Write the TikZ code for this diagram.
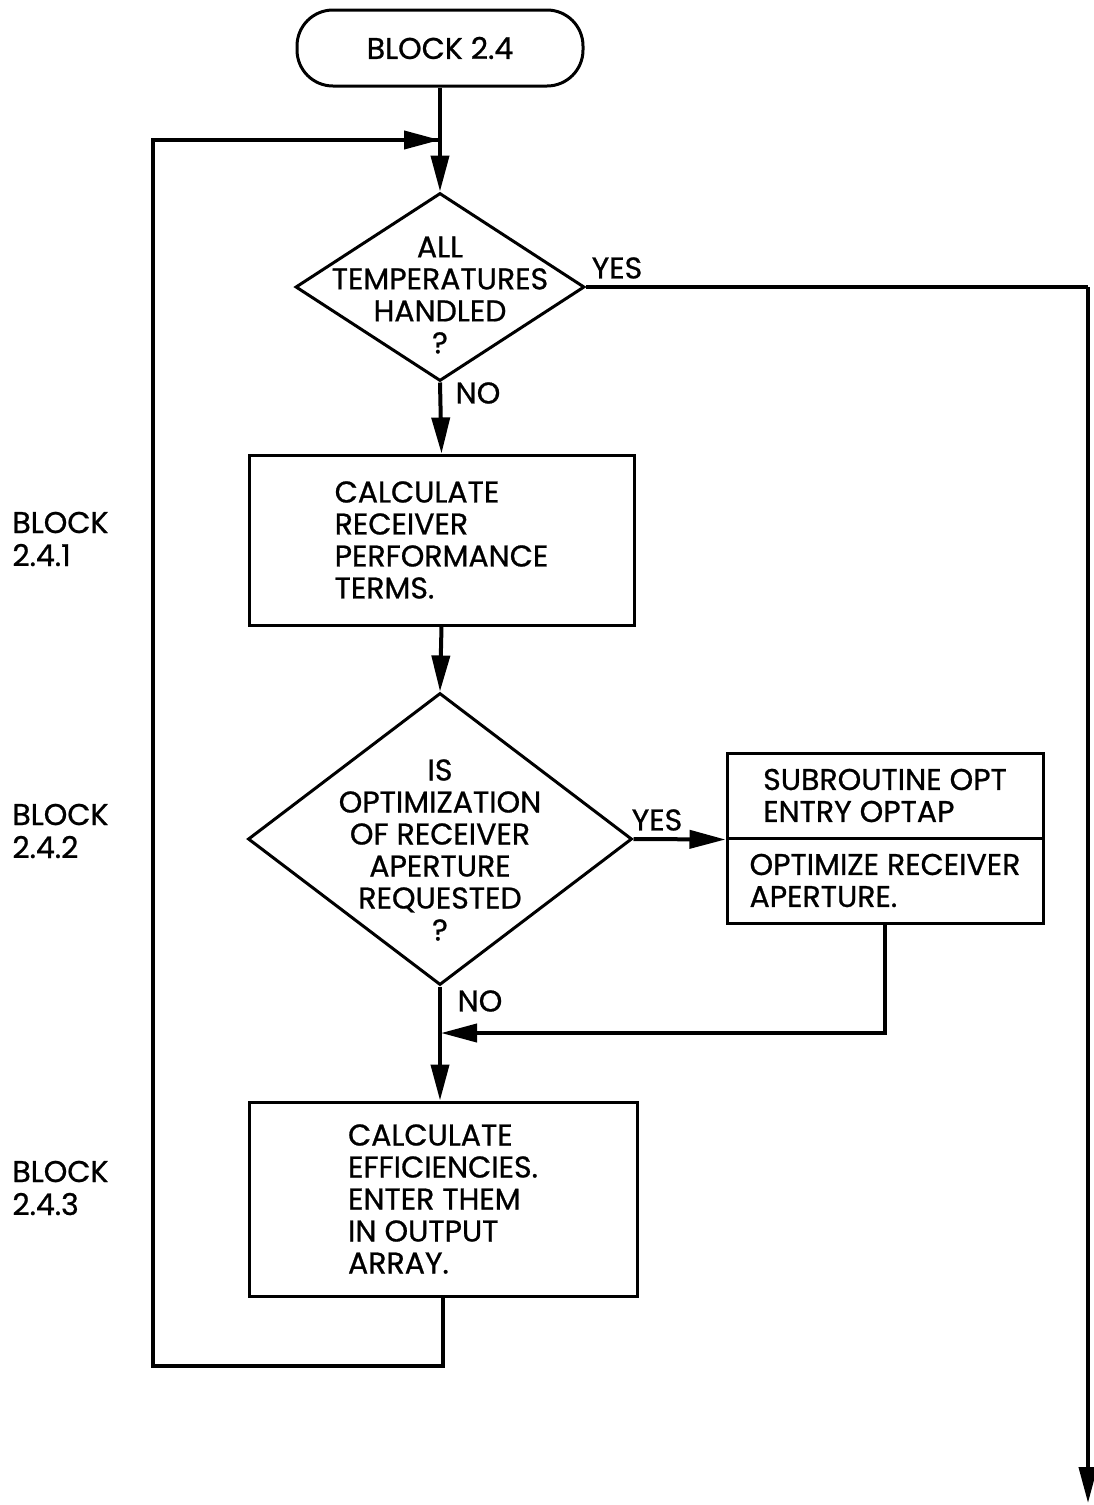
\documentclass[tikz,border=0pt]{standalone}
\usepackage{fontspec}
\setmainfont{Poppins}[UprightFeatures={FakeBold=0.8}]
\usetikzlibrary{shapes.geometric,arrows.meta}
\begin{document}
\begin{tikzpicture}[x=0.5pt,y=-0.5pt,
  conn/.style={line width=2pt},
  arr/.style={line width=2pt,-{Triangle[length=18pt,width=9pt]}},
  boxnode/.style={draw,line width=1.5pt,inner sep=0pt,font=\fontsize{15}{16}\selectfont,align=left},
  dia/.style={draw,diamond,line width=1.5pt,inner sep=0pt},
  txt/.style={font=\fontsize{15}{16}\selectfont,align=center,inner sep=0pt},
  side/.style={font=\fontsize{15}{16.5}\selectfont,align=left,inner sep=0pt,anchor=west}]
\useasboundingbox (0,0) rectangle (1093,1505);
% nodes
\node[boxnode,rounded corners=18pt,minimum width=143pt,minimum height=38pt] (term) at (440,48) {BLOCK 2.4};
\node[dia,minimum width=144.5pt,minimum height=94pt] (d1) at (440,287) {};
\node[txt] (d1t) at (440,295) {ALL\\TEMPERATURES\\HANDLED\\?};
\node[boxnode,minimum width=192.5pt,minimum height=85pt] (b1) at (441.5,540) {CALCULATE\\RECEIVER\\PERFORMANCE\\TERMS.};
\node[dia,minimum width=192pt,minimum height=146pt] (d2) at (440,839) {};
\node[txt] (d2t) at (440,850) {IS\\OPTIMIZATION\\OF RECEIVER\\APERTURE\\REQUESTED\\?};
\node[boxnode,minimum width=158pt,minimum height=42.5pt] (s1) at (885,795.5) {SUBROUTINE OPT\\ENTRY OPTAP};
\node[boxnode,minimum width=158pt,minimum height=42.5pt] (s2) at (885,880.5) {OPTIMIZE RECEIVER\\APERTURE.};
\node[boxnode,minimum width=194pt,minimum height=97pt] (b3) at (443,1199) {CALCULATE\\EFFICIENCIES.\\ENTER THEM\\IN OUTPUT\\ARRAY.};
% labels
\node[txt] (yes1) at (617,268) {YES};
\node[txt] (no1) at (478,393) {NO};
\node[txt] (yes2) at (657,820) {YES};
\node[txt] (no2) at (480,1001) {NO};
\node[side] (l1) at (12,539) {BLOCK\\2.4.1};
\node[side] (l2) at (12,831) {BLOCK\\2.4.2};
\node[side] (l3) at (12,1188) {BLOCK\\2.4.3};
% coordinates
\coordinate (jn) at (440,140);
\coordinate (lpa) at (443,1366);
\coordinate (lpb) at (153,1366);
\coordinate (lpc) at (153,140);
\coordinate (rt) at (1088,287);
\coordinate (rend) at (1088,1503);
\coordinate (j2) at (441,1033);
% connectors
\draw[arr] (term.south) -- (d1.north);
\draw[arr] (d1.south) -- (b1.north);
\draw[arr] (b1.south) -- (d2.north);
\draw[arr] (d2.south) -- (b3.north -| d2.south);
\draw[arr] (d2.east) -- (s1.south west);
\draw[arr] (s2.south) |- (j2);
\draw[conn] (b3.south) -- (lpa) -- (lpb) -- (lpc) -- (jn);
\draw[arr] (lpc) -- (jn);
\draw[conn] (d1.east) -- (rt);
\draw[arr] (rt) -- (rend);
\end{tikzpicture}
\end{document}
